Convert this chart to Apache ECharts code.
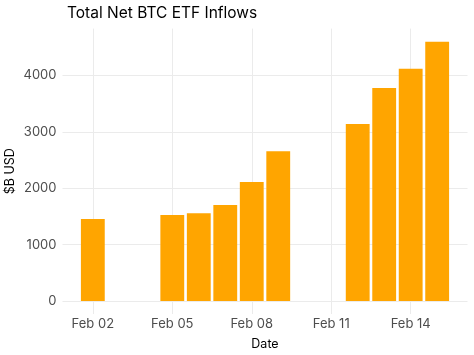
<!DOCTYPE html>
<html>
<head>
<meta charset="utf-8">
<script src="https://cdn.jsdelivr.net/npm/echarts@6/dist/echarts.min.js"></script>
<style>html,body{margin:0;padding:0;background:#fff}#c{width:474px;height:355px}</style>
</head>
<body>
<div id="c"></div>
<script>
const dates = ['2024-02-02','2024-02-05','2024-02-06','2024-02-07','2024-02-08','2024-02-09','2024-02-12','2024-02-13','2024-02-14','2024-02-15'];
const inflows = [1454, 1525, 1555, 1702, 2110, 2654, 3138, 3777, 4119, 4598];
const xTickDays = [2, 5, 8, 11, 14];
const yTicks = [0, 1000, 2000, 3000, 4000];

const dayOf = s => parseInt(s.slice(8, 10), 10);
const seriesData = dates.map((d, i) => [dayOf(d), inflows[i]]);
const font = 'Inter, "DejaVu Sans", sans-serif';

const chart = echarts.init(document.getElementById('c'), null, {renderer: 'canvas'});
chart.setOption({
  animation: false,
  backgroundColor: '#fff',
  title: {
    text: 'Total Net BTC ETF Inflows',
    left: 62, top: 0,
    textStyle: {fontFamily: font, fontSize: 15.5, fontWeight: 'normal', color: '#000'}
  },
  grid: {left: 62.5, right: 6.5, top: 28.6, bottom: 41, containLabel: false, outerBoundsMode: 'none'},
  xAxis: {
    type: 'value',
    min: 0.855, max: 16.145,
    name: 'Date', nameLocation: 'middle', nameGap: 24,
    nameTextStyle: {fontFamily: font, fontSize: 12.5, color: '#000'},
    axisLine: {show: false},
    axisTick: {show: false, customValues: xTickDays},
    axisLabel: {
      customValues: xTickDays,
      fontFamily: font, fontSize: 13, color: '#4d4d4d', margin: 4,
      formatter: v => 'Feb ' + String(Math.round(v)).padStart(2, '0')
    },
    splitLine: {show: true, lineStyle: {color: '#ebebeb', width: 1}}
  },
  yAxis: {
    type: 'value',
    min: -230, max: 4830,
    name: '$B USD', nameLocation: 'middle', nameGap: 46, nameRotate: 90,
    nameMoveOverlap: false,
    nameTextStyle: {fontFamily: font, fontSize: 12.5, color: '#000'},
    axisLine: {show: false},
    axisTick: {show: false, customValues: yTicks},
    axisLabel: {customValues: yTicks, fontFamily: font, fontSize: 13, color: '#4d4d4d', margin: 6,
      formatter: v => String(v)},
    splitLine: {show: true, lineStyle: {color: '#ebebeb', width: 1}}
  },
  series: [{
    type: 'bar',
    data: seriesData,
    barWidth: '90%',
    itemStyle: {color: '#FFA500'},
    z: 3
  }]
});
</script>
</body>
</html>
